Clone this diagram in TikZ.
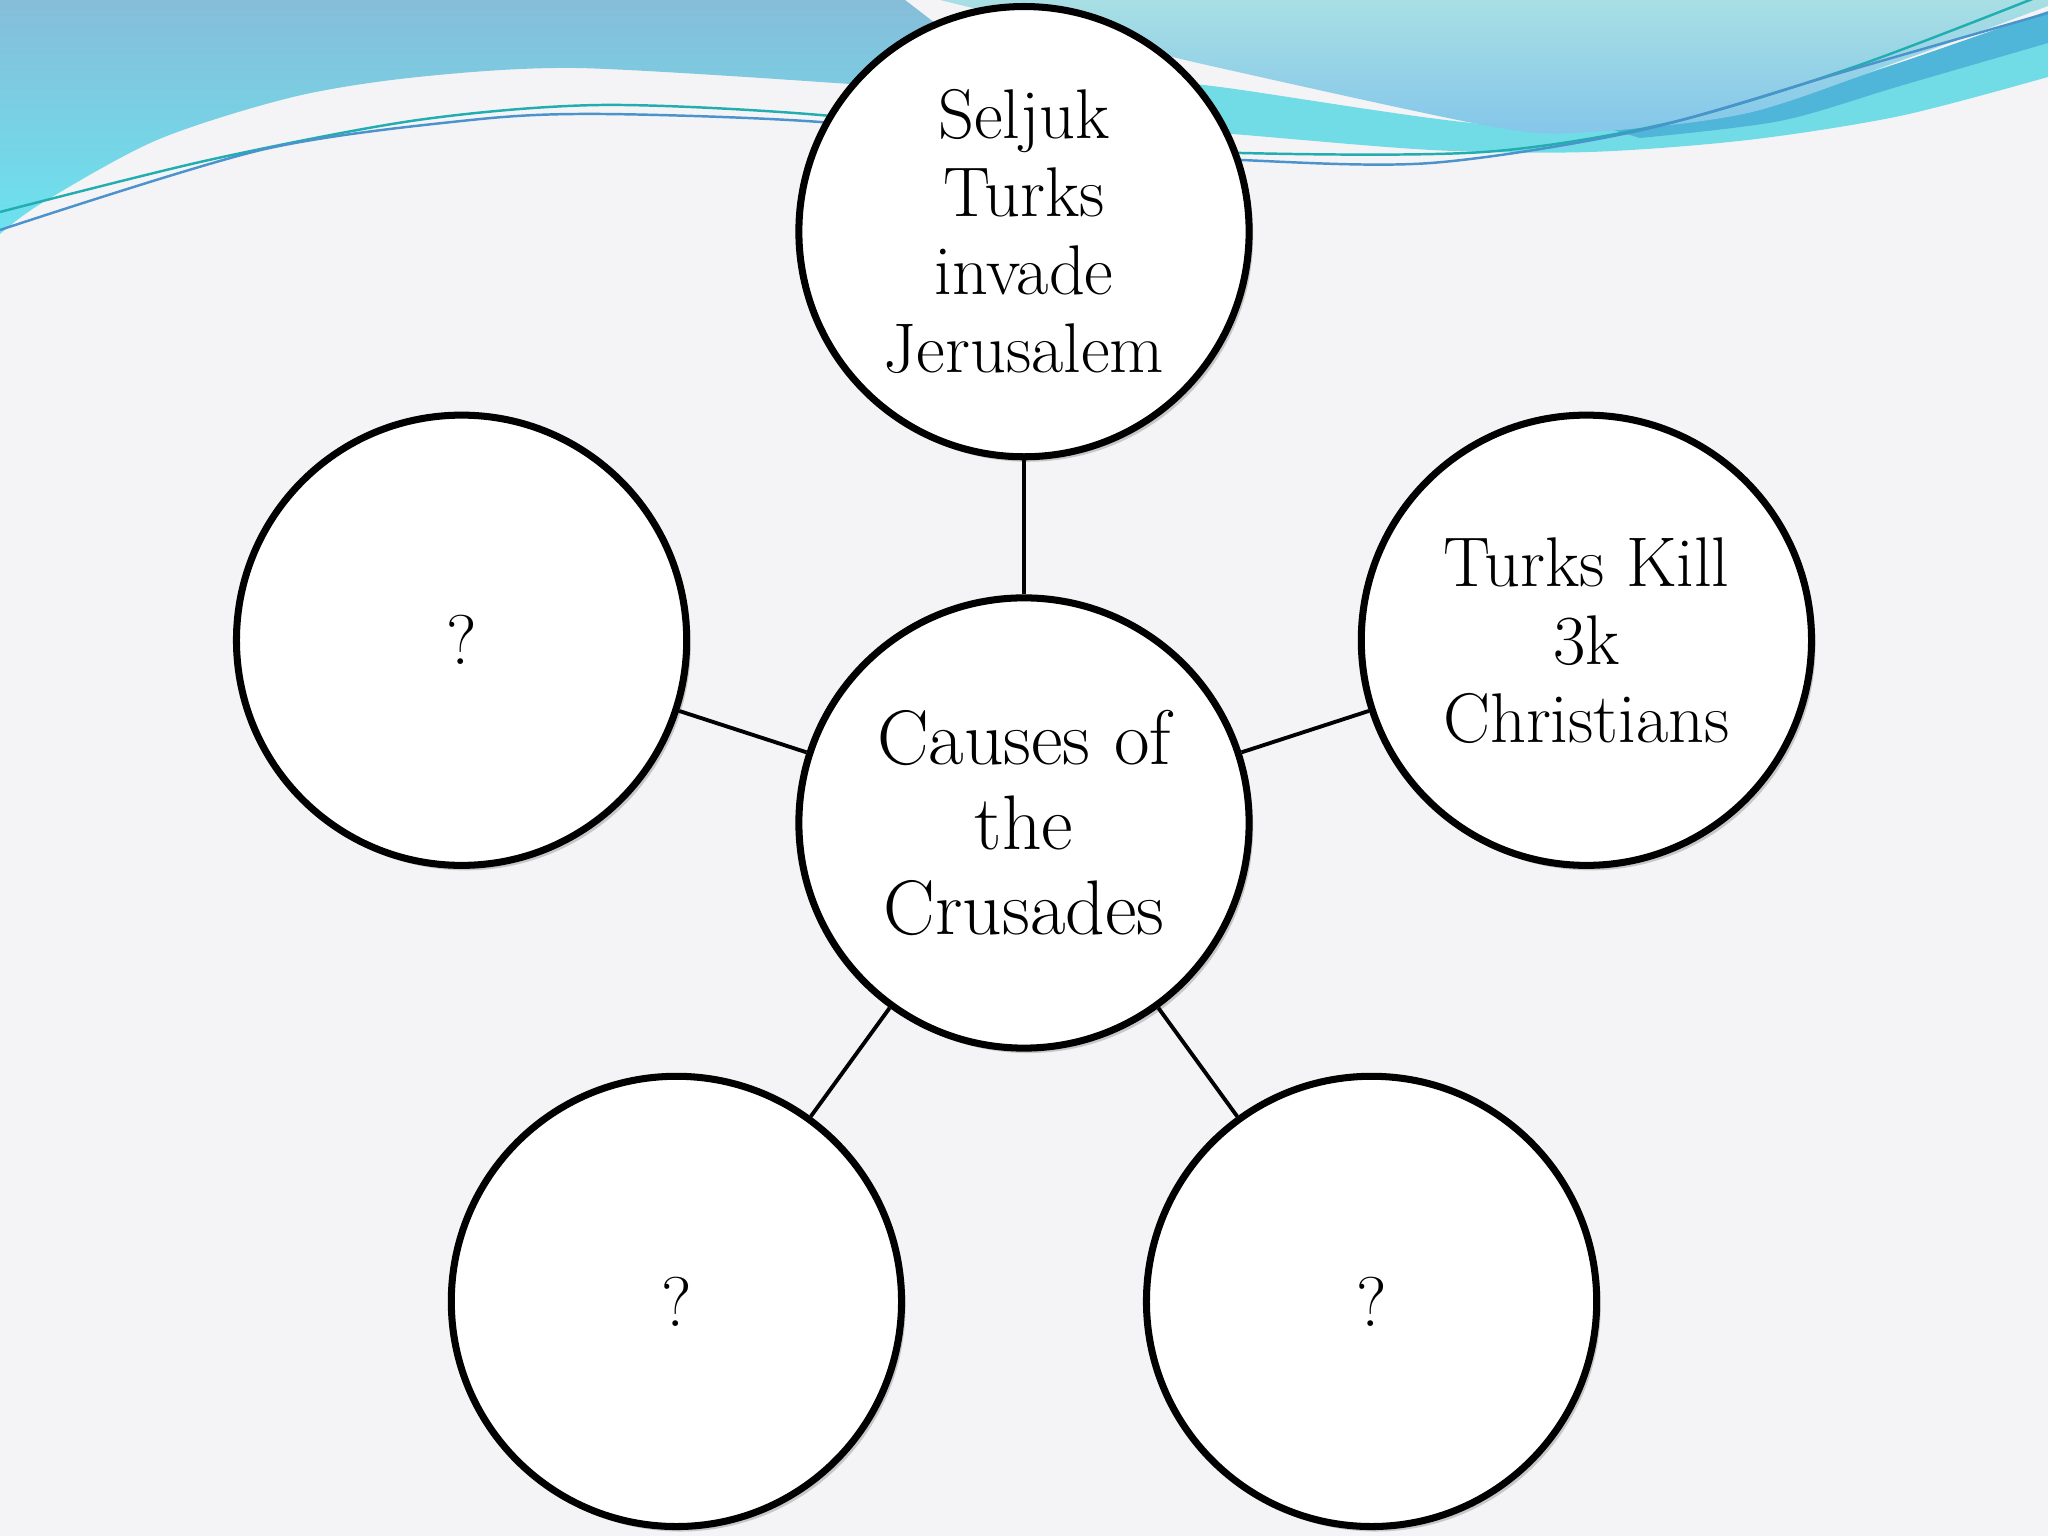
\documentclass[tikz,border=0pt]{standalone}
\usetikzlibrary{shadows}

\definecolor{slidebg}{HTML}{F4F4F6}
\definecolor{skytop}{HTML}{86BDD9}
\definecolor{skylow}{HTML}{6CE3EF}
\definecolor{seatop}{HTML}{A8DFE4}
\definecolor{sealow}{HTML}{84C6EA}
\definecolor{ribbon}{HTML}{72DCE6}
\definecolor{ribbondark}{HTML}{4FB5D9}
\definecolor{strandA}{HTML}{22AEB0}
\definecolor{strandB}{HTML}{4B93CC}

\tikzset{
  bubble/.style={draw, circle, line width=2pt, fill=white, minimum size=4.5cm,
    inner sep=0pt, align=center,
    drop shadow={opacity=0.18, fill=black, shadow xshift=0.04cm, shadow yshift=-0.05cm}},
  bigtext/.style={font=\fontsize{22}{24.2}\selectfont},
  midtext/.style={font=\fontsize{20}{22.2}\selectfont},
  spoke/.style={line width=1.1pt},
  strand/.style={line width=0.7pt},
}

\begin{document}
\begin{tikzpicture}[x=0.01cm, y=0.01cm]
    \useasboundingbox (0,0) rectangle (2048,1536);
    \fill[slidebg] (0,0) rectangle (2048,1536);

    % header waves
    \shade[top color=skytop, bottom color=skylow] (0,1536) -- (905,1536) -- (1030,1440)
        -- plot[smooth] coordinates {(820,1454) (575,1468) (418,1459) (293,1439) (157,1396) (42,1333) (0,1302)} -- cycle;
    \fill[ribbon] plot[smooth] coordinates {(1100,1461) (1220,1449) (1494,1411) (1700,1416) (2048,1521)}
        -- (2048,1459)
        -- plot[smooth] coordinates {(2048,1459) (1900,1420) (1748,1396) (1590,1384) (1431,1386) (1220,1403) (1100,1411)} -- cycle;
    \fill[ribbondark] plot[smooth] coordinates {(1600,1410) (1750,1425) (2048,1525)}
        -- plot[smooth] coordinates {(2048,1493) (1900,1450) (1780,1415) (1640,1398)} -- cycle;
    \shade[top color=seatop, bottom color=sealow] (940,1536) -- (2048,1536)
        -- plot[smooth] coordinates {(2048,1530) (1900,1475) (1748,1423) (1590,1404) (1494,1409) (1220,1468) (1100,1497) (940,1536)} -- cycle;
    \draw[strand, strandA] plot[smooth] coordinates {(0,1324) (209,1376) (418,1416) (601,1431) (820,1421) (1030,1395) (1241,1383) (1484,1384) (1669,1413) (1854,1469) (2040,1540)};
    \draw[strand, strandB] plot[smooth] coordinates {(0,1306) (261,1386) (471,1416) (601,1422) (820,1414) (1030,1390) (1241,1376) (1431,1373) (1642,1406) (1850,1466) (2048,1523)};

    % the causes
    \node[bubble, bigtext] (hub) at (1024,713) {Causes of\\the\\Crusades};
    \node[bubble, midtext, above of=hub, node distance=5.91cm] (invade) {Seljuk\\Turks\\invade\\Jerusalem};
    \node[bubble, midtext] (kill) at ([shift={(18:5.91cm)}]hub.center) {Turks Kill\\3k\\Christians};
    \node[bubble, midtext] (askleft) at ([shift={(162:5.91cm)}]hub.center) {?};
    \node[bubble, midtext] (asklow) at ([shift={(234:5.91cm)}]hub.center) {?};
    \node[bubble, midtext] (askright) at ([shift={(306:5.91cm)}]hub.center) {?};

    \draw[spoke] (hub) -- (invade);
    \draw[spoke] (hub) -- (kill);
    \draw[spoke] (hub) -- (askleft);
    \draw[spoke] (hub) -- (asklow);
    \draw[spoke] (hub) -- (askright);
\end{tikzpicture}
\end{document}
